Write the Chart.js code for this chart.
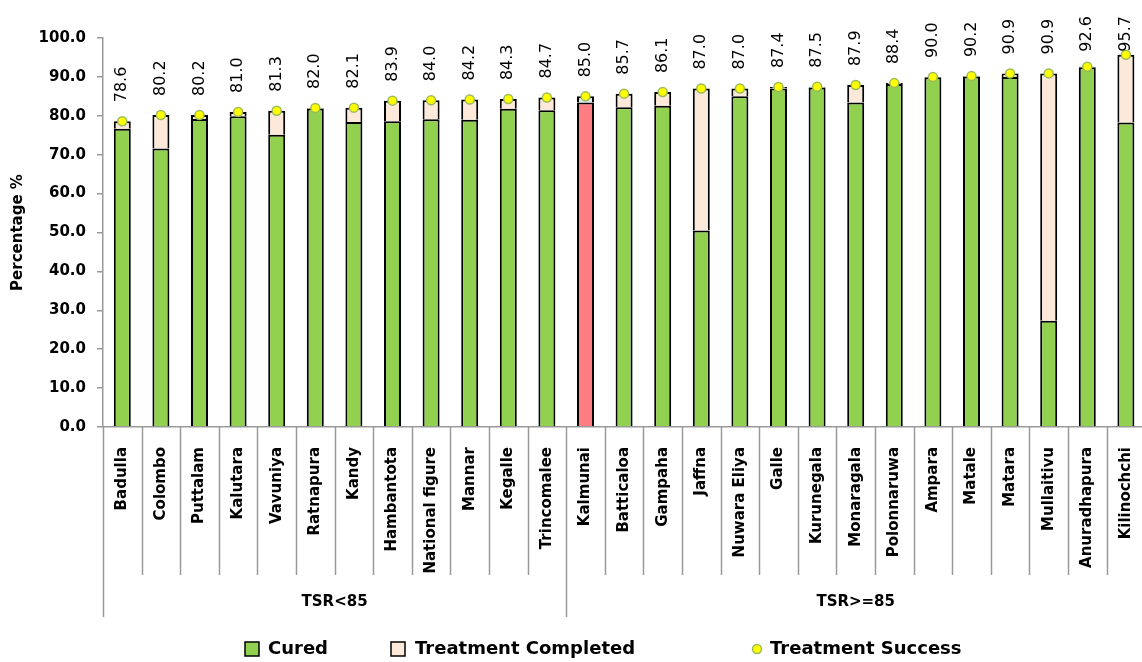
<!DOCTYPE html>
<html>
<head>
<meta charset="utf-8">
<script src="https://cdn.jsdelivr.net/npm/chart.js@4.4.1/dist/chart.umd.min.js"></script>
<style>
html,body{margin:0;padding:0;background:#fff;overflow:hidden;}
#wrap{width:1142px;height:662px;position:relative;overflow:hidden;}
</style>
</head>
<body>
<div id="wrap"><canvas id="c" width="1156" height="662"></canvas></div>
<script>
const categories = ["Badulla","Colombo","Puttalam","Kalutara","Vavuniya","Ratnapura","Kandy","Hambantota","National figure","Mannar","Kegalle","Trincomalee","Kalmunai","Batticaloa","Gampaha","Jaffna","Nuwara Eliya","Galle","Kurunegala","Monaragala","Polonnaruwa","Ampara","Matale","Matara","Mullaitivu","Anuradhapura","Kilinochchi"];
const cured =     [76.7,71.6,79.2,79.9,75.1,81.9,78.4,78.6,79.1,79.0,81.8,81.4,83.4,82.2,82.6,50.5,85.0,87.0,87.3,83.4,88.2,89.9,90.1,90.0,27.3,92.5,78.3];
const completed = [1.9,8.6,1.0,1.1,6.2,0.1,3.7,5.3,4.9,5.2,2.5,3.3,1.6,3.5,3.5,36.5,2.0,0.4,0.2,4.5,0.2,0.1,0.1,0.9,63.6,0.1,17.4];
const success =   [78.6,80.2,80.2,81.0,81.3,82.0,82.1,83.9,84.0,84.2,84.3,84.7,85.0,85.7,86.1,87.0,87.0,87.4,87.5,87.9,88.4,90.0,90.2,90.9,90.9,92.6,95.7];
const groups = [{label:"TSR<85", from:0, to:12},{label:"TSR>=85", from:12, to:27}];
const yTicks = [0,10,20,30,40,50,60,70,80,90,100];
const highlightIndex = 12;

const GREEN='#92D050', PEACH='#FDE9D9', RED='#FF7C80', BLUE='#DAEEF3';
const FONT='"DejaVu Sans", sans-serif';

const extras = {
  id:'extras',
  afterDraw(chart){
    const ctx = chart.ctx;
    const xs = chart.scales.x;
    const n = categories.length;
    const w = (xs.right - xs.left)/n;
    const bottom = chart.chartArea.bottom;
    ctx.save();
    ctx.strokeStyle = '#999';
    ctx.lineWidth = 1.5;
    const groupEdges = new Set();
    groups.forEach(g=>{groupEdges.add(g.from);groupEdges.add(g.to);});
    for(let i=0;i<=n;i++){
      const x = Math.round(xs.left + i*w)+0.5;
      const end = groupEdges.has(i) ? 617 : 575;
      ctx.beginPath(); ctx.moveTo(x,bottom); ctx.lineTo(x,end); ctx.stroke();
    }
    ctx.fillStyle='#000';
    ctx.font='bold 15px '+FONT;
    ctx.textAlign='center'; ctx.textBaseline='middle';
    groups.forEach(g=>{
      const cx = xs.left + (g.from+g.to)/2*w;
      ctx.fillText(g.label, cx, 602);
    });
    const meta = chart.getDatasetMeta(2);
    ctx.font='16px '+FONT;
    meta.data.forEach((pt,i)=>{
      const txt = success[i].toFixed(1);
      const tw = ctx.measureText(txt).width;
      let b = pt.y - 19;
      if(b - tw < 16) b = 16 + tw;
      ctx.save();
      ctx.translate(pt.x, b);
      ctx.rotate(-Math.PI/2);
      ctx.textAlign='left'; ctx.textBaseline='middle';
      ctx.fillText(txt, 0, 0);
      ctx.restore();
    });
    const ly = 649;
    ctx.font='bold 18px '+FONT;
    ctx.textAlign='left'; ctx.textBaseline='middle';
    ctx.lineWidth=1.5; ctx.strokeStyle='#000';
    ctx.fillStyle=GREEN; ctx.fillRect(245,ly-7,14,14); ctx.strokeRect(245,ly-7,14,14);
    ctx.fillStyle='#000'; ctx.fillText('Cured',268,ly);
    ctx.fillStyle=PEACH; ctx.fillRect(391,ly-7,14,14); ctx.strokeRect(391,ly-7,14,14);
    ctx.fillStyle='#000'; ctx.fillText('Treatment Completed',415,ly);
    ctx.beginPath(); ctx.arc(757,ly,4.5,0,Math.PI*2);
    ctx.fillStyle='#FFFF00'; ctx.fill(); ctx.strokeStyle='#9BBB59'; ctx.lineWidth=1.5; ctx.stroke();
    ctx.fillStyle='#000'; ctx.fillText('Treatment Success',770,ly);
    ctx.restore();
  }
};

new Chart(document.getElementById('c'),{
  data:{
    labels:categories,
    datasets:[
      {type:'bar',label:'Cured',data:cured,stack:'s',order:2,
       backgroundColor:cured.map((v,i)=>i===highlightIndex?RED:GREEN),
       borderColor:'#000',borderWidth:2,borderSkipped:'start',
       barPercentage:0.44,categoryPercentage:1},
      {type:'bar',label:'Treatment Completed',data:completed,stack:'s',order:2,
       backgroundColor:completed.map((v,i)=>i===highlightIndex?BLUE:PEACH),
       borderColor:'#000',borderWidth:2,borderSkipped:'start',
       barPercentage:0.44,categoryPercentage:1},
      {type:'line',label:'Treatment Success',data:success,stack:'tsr',order:0,
       showLine:false,pointRadius:4.5,pointHoverRadius:4.5,
       pointBackgroundColor:'#FFFF00',pointBorderColor:'#9BBB59',pointBorderWidth:1.5}
    ]
  },
  options:{
    responsive:false,animation:false,
    layout:{padding:{top:38,right:0,left:0,bottom:0}},
    plugins:{legend:{display:false},tooltip:{enabled:false}},
    scales:{
      x:{stacked:true,offset:true,
        grid:{display:false},
        border:{display:true,color:'#999',width:1.5},
        ticks:{minRotation:90,maxRotation:90,autoSkip:false,padding:12,color:'#000',
          font:{family:FONT,weight:'bold',size:15}},
        afterFit(s){s.height=235;}
      },
      y:{stacked:true,min:0,max:100,
        afterBuildTicks(s){s.ticks=yTicks.map(v=>({value:v}));},
        grid:{drawOnChartArea:false,drawTicks:true,tickLength:6,color:'#999',lineWidth:1.5},
        border:{display:true,color:'#999',width:1.5},
        ticks:{padding:11,color:'#000',font:{family:FONT,weight:'bold',size:15},
          callback:v=>Number(v).toFixed(1)},
        title:{display:true,text:'Percentage %',color:'#000',padding:{top:9,bottom:0},
          font:{family:FONT,weight:'bold',size:15}},
        afterFit(s){s.width=103;}
      }
    }
  },
  plugins:[extras]
});
</script>
</body>
</html>
